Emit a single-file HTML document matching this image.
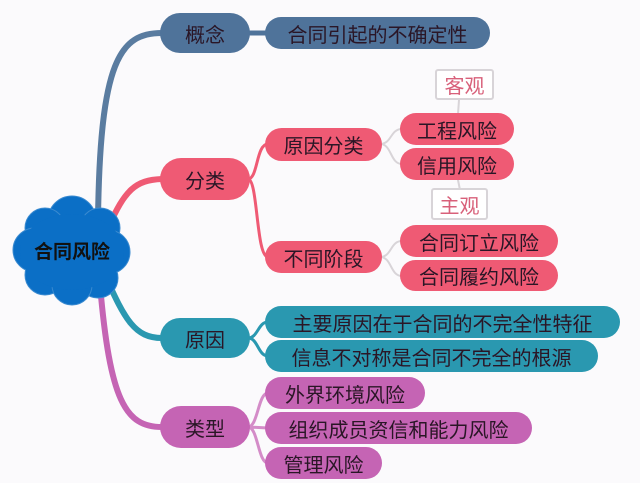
<!DOCTYPE html>
<html><head><meta charset="utf-8"><style>
html,body{margin:0;padding:0;background:#fbfafc;}
body{width:640px;height:483px;position:relative;overflow:hidden;font-family:"Liberation Sans","Noto Sans CJK SC",sans-serif;}
.n{position:absolute;border-radius:18px;color:#2a1626;font-size:20px;display:flex;align-items:center;justify-content:center;box-sizing:border-box;white-space:nowrap;}
.b{background:#4f739a;} .r{background:#ef5a74;} .t{background:#2a98b0;} .p{background:#c564b4;}
.lab{position:absolute;background:#fff;border:2px solid #d8d4d8;border-radius:3px;color:#d8607a;font-size:20px;display:flex;align-items:center;justify-content:center;box-sizing:border-box;}
</style></head><body>
<svg width="640" height="483" style="position:absolute;left:0;top:0">
<g fill="none" stroke-linecap="round">
<path d="M98,220 C100,60 120,33 162,33" stroke="#5a7ca0" stroke-width="6"/>
<path d="M108,228 C125,190 135,180 162,179" stroke="#ef5a74" stroke-width="6"/>
<path d="M105,275 C125,320 135,338 162,338" stroke="#2a98b0" stroke-width="6"/>
<path d="M100,285 C110,400 125,427 162,427" stroke="#c564b4" stroke-width="6"/>
<path d="M248,33 L268,33" stroke="#4f739a" stroke-width="5"/>
<path d="M248,179 C258,179 256,144 268,144 M248,179 C258,179 256,257 268,257" stroke="#ef5a74" stroke-width="3"/>
<path d="M248,338 C258,338 258,322 268,322 M248,338 C258,338 258,356 268,356" stroke="#2a98b0" stroke-width="3"/>
<path d="M248,427 C258,427 258,393 268,393 M248,427 L268,428 M248,427 C258,427 258,463 268,463" stroke="#d48cc8" stroke-width="3"/>
<path d="M380,144 C392,144 390,129 402,129 M380,144 C392,144 390,164 402,164" stroke="#d8d4d8" stroke-width="2"/>
<path d="M380,257 C392,257 390,241 402,241 M380,257 C392,257 390,276 402,276" stroke="#d8d4d8" stroke-width="2"/>
<path d="M459,100 L458,114 M458,180 L460,190" stroke="#d8d4d8" stroke-width="2"/>
</g>
<g fill="#0b6fc6" stroke="#3a8ad0" stroke-width="1">
<circle cx="72" cy="220" r="24"/><circle cx="45" cy="228" r="20"/><circle cx="100" cy="228" r="20"/>
<circle cx="35" cy="250" r="22"/><circle cx="108" cy="252" r="22"/><circle cx="45" cy="275" r="20"/>
<circle cx="98" cy="278" r="20"/><circle cx="72" cy="285" r="20"/><ellipse cx="72" cy="252" rx="52" ry="38" stroke="none"/>
</g>
<text x="72" y="258" text-anchor="middle" font-size="19" font-weight="bold" fill="#111" font-family="Liberation Sans, Noto Sans CJK SC, sans-serif">合同风险</text>
</svg>
<div class="n b" style="left:160px;top:13px;width:90px;height:40px;border-radius:20px">概念</div>
<div class="n b" style="left:265px;top:17px;width:225px;height:32px">合同引起的不确定性</div>
<div class="n r" style="left:160px;top:158px;width:90px;height:42px;border-radius:21px">分类</div>
<div class="n r" style="left:265px;top:128px;width:117px;height:33px">原因分类</div>
<div class="n r" style="left:400px;top:113px;width:114px;height:32px">工程风险</div>
<div class="n r" style="left:400px;top:148px;width:114px;height:32px">信用风险</div>
<div class="lab" style="left:435px;top:69px;width:59px;height:31px">客观</div>
<div class="lab" style="left:431px;top:188px;width:57px;height:32px">主观</div>
<div class="n r" style="left:265px;top:241px;width:117px;height:32px">不同阶段</div>
<div class="n r" style="left:400px;top:225px;width:158px;height:32px">合同订立风险</div>
<div class="n r" style="left:400px;top:260px;width:158px;height:31px">合同履约风险</div>
<div class="n t" style="left:160px;top:318px;width:90px;height:40px;border-radius:20px">原因</div>
<div class="n t" style="left:265px;top:306px;width:355px;height:32px">主要原因在于合同的不完全性特征</div>
<div class="n t" style="left:265px;top:340px;width:333px;height:32px">信息不对称是合同不完全的根源</div>
<div class="n p" style="left:160px;top:406px;width:90px;height:42px;border-radius:21px">类型</div>
<div class="n p" style="left:265px;top:377px;width:160px;height:32px">外界环境风险</div>
<div class="n p" style="left:265px;top:412px;width:267px;height:32px">组织成员资信和能力风险</div>
<div class="n p" style="left:265px;top:447px;width:117px;height:32px">管理风险</div>
</body></html>
